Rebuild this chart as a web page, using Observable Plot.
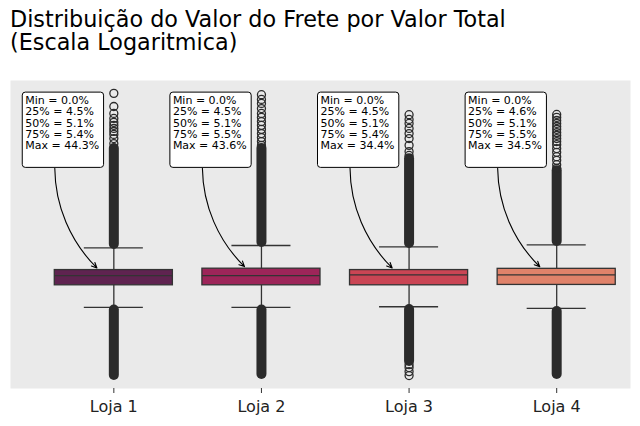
<!DOCTYPE html>
<html><head><meta charset="utf-8">
<script src="https://cdn.jsdelivr.net/npm/d3@7"></script>
<script src="https://cdn.jsdelivr.net/npm/@observablehq/plot@0.6"></script>
<style>
body{margin:0;background:#fff;font-family:"DejaVu Sans",sans-serif;}
#title{height:54px;box-sizing:border-box;padding:8px 0 0 10px;font-size:22.3px;line-height:23px;color:#000;white-space:nowrap}
#chart svg{display:block}
</style></head><body>
<div id="title">Distribuição do Valor do Frete por Valor Total<br>(Escala Logaritmica)</div>
<div id="chart"></div>
<script>
// ---- data (percent of total value, log scale) ----
const lojas = ["Loja 1", "Loja 2", "Loja 3", "Loja 4"];
const q1 = [4.54, 4.54, 4.54, 4.56];
const med = [5.09, 5.09, 5.14, 5.14];
const q3 = [5.44, 5.53, 5.44, 5.52];
const whiskerLo = [3.49, 3.49, 3.52, 3.45];
const whiskerHi = [7.08, 7.28, 7.17, 7.34];

// annotation statistics
const statMin = [0.0, 0.0, 0.0, 0.0];
const stat25 = [4.5, 4.5, 4.5, 4.6];
const stat50 = [5.1, 5.1, 5.1, 5.1];
const stat75 = [5.4, 5.5, 5.4, 5.5];
const statMax = [44.3, 43.6, 34.4, 34.5];

// individually visible outliers
const outliersHigh = [
  [44.3, 37.9, 34.9, 32.9, 31.4, 30.3, 29.2, 28.2, 27.2, 25.9, 24.4],
  [43.6, 41.2, 39.3, 37.0, 34.9, 33.3, 31.7, 30.3, 28.9, 27.5, 26.2, 25.0, 23.9],
  [34.4, 32.5, 31.0, 29.2, 27.5, 25.9, 23.9, 22.2, 21.2],
  [34.5, 33.3, 32.1, 31.0, 29.9, 28.9, 27.8, 26.9, 25.9, 25.0, 24.1, 23.0, 22.0, 20.9, 20.0, 19.0, 18.2]
];
const outliersLow = [
  [],
  [],
  [1.77, 1.71, 1.63, 1.556],
  []
];
// ranges packed so densely with outliers that they form a solid column
const denseHigh = [[7.37, 23.0], [7.55, 23.0], [7.46, 20.4], [7.63, 17.7]];
const denseLow = [[1.556, 3.39], [1.575, 3.39], [1.84, 3.41], [1.575, 3.33]];

// ---- styles / layout ----
const colors = ["#5F2350", "#9D2559", "#CA4554", "#E0826A"];
const ink = "#333333";
const flierInk = "#2b2b2b";
const arrowFromY = 18.2; // bottom of annotation boxes, in y units

const idx = lojas.map((_, i) => i);
const fliers = [];
idx.forEach(i => {
  outliersHigh[i].forEach(v => fliers.push({i, v}));
  outliersLow[i].forEach(v => fliers.push({i, v}));
});
const dense = [];
idx.forEach(i => {
  dense.push({i, a: denseHigh[i][0], b: denseHigh[i][1]});
  dense.push({i, a: denseLow[i][0], b: denseLow[i][1]});
});
const label = i => `Min = ${statMin[i].toFixed(1)}%\n25% = ${stat25[i].toFixed(1)}%\n50% = ${stat50[i].toFixed(1)}%\n75% = ${stat75[i].toFixed(1)}%\nMax = ${statMax[i].toFixed(1)}%`;

const chart = Plot.plot({
  width: 640,
  height: 372,
  marginLeft: 10,
  marginRight: 10,
  marginTop: 26,
  marginBottom: 38,
  style: {fontFamily: "DejaVu Sans", background: "white", overflow: "visible"},
  x: {type: "linear", domain: [-0.7, 3.5]},
  y: {type: "log", domain: [1.334, 51.6], axis: null},
  marks: [
    Plot.frame({fill: "#EAEAEA", stroke: "none"}),
    Plot.ruleX(idx, {x: i => i, y1: i => whiskerLo[i], y2: i => whiskerHi[i], stroke: ink, strokeWidth: 1.3}),
    Plot.ruleY(idx, {y: i => whiskerLo[i], x1: i => i - 0.2, x2: i => i + 0.2, stroke: ink, strokeWidth: 1.3}),
    Plot.ruleY(idx, {y: i => whiskerHi[i], x1: i => i - 0.2, x2: i => i + 0.2, stroke: ink, strokeWidth: 1.3}),
    Plot.rect(idx, {x1: i => i - 0.4, x2: i => i + 0.4, y1: i => q1[i], y2: i => q3[i], fill: i => colors[i], stroke: ink, strokeWidth: 1.3}),
    Plot.ruleY(idx, {y: i => med[i], x1: i => i - 0.4, x2: i => i + 0.4, stroke: ink, strokeWidth: 1.3}),
    Plot.ruleX(dense, {x: "i", y1: "a", y2: "b", stroke: flierInk, strokeWidth: 10, strokeLinecap: "round"}),
    Plot.dot(fliers, {x: "i", y: "v", r: 4, fill: "none", stroke: flierInk, strokeWidth: 1.3}),
    Plot.arrow(idx, {x1: i => i - 0.4, y1: arrowFromY, x2: i => i - 0.1, y2: i => q3[i], bend: -23, insetEnd: 3, headLength: 8, headAngle: 50, stroke: "black", strokeWidth: 1.1}),
    Plot.text(idx, {x: i => i - 0.6, frameAnchor: "top", dy: 15, lineAnchor: "top", textAnchor: "start", text: label, fontSize: 11, lineHeight: 1.04, fill: "black"}),
    Plot.axisX(idx, {tickFormat: i => lojas[i], tickSize: 5, tickPadding: 7, fontSize: 16, label: null, stroke: ink, fill: "#222"})
  ]
});
document.getElementById("chart").append(chart);

// white rounded boxes behind annotation texts
const NS = "http://www.w3.org/2000/svg";
Array.from(chart.querySelectorAll("text"))
  .filter(t => t.textContent.startsWith("Min ="))
  .forEach(t => {
    const b = t.getBBox();
    const r = document.createElementNS(NS, "rect");
    r.setAttribute("x", b.x - 3);
    r.setAttribute("y", b.y - 1.5);
    r.setAttribute("width", b.width + 7.4);
    r.setAttribute("height", b.height + 16.5);
    r.setAttribute("rx", 3);
    r.setAttribute("fill", "white");
    r.setAttribute("stroke", "black");
    r.setAttribute("stroke-width", 1);
    const tr = t.getAttribute("transform");
    if (tr) r.setAttribute("transform", tr);
    t.parentNode.insertBefore(r, t);
  });
</script></body></html>
